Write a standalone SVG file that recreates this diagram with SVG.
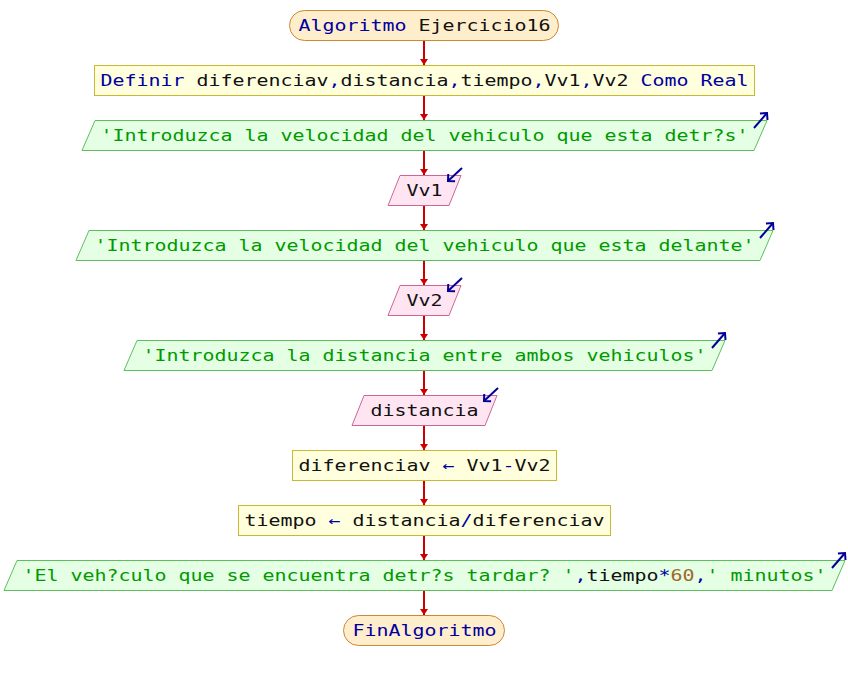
<svg xmlns="http://www.w3.org/2000/svg" width="848" height="680" viewBox="0 0 848 680">
<defs>
<style>
text{font-family:"DejaVu Sans Mono","Liberation Mono",monospace;font-size:16px;fill:#111111}
.kw{fill:#0000a0}
.st{fill:#009900}
.nu{fill:#a0682c}
.term{fill:#ffeecc;stroke:#cc8833;stroke-width:1}
.proc{fill:#ffffdd;stroke:#c8b832;stroke-width:1}
.out{fill:#e4ffe4;stroke:#5cbf5c;stroke-width:1}
.inp{fill:#ffe4f2;stroke:#cc6699;stroke-width:1}
.conn{stroke:#cc0000;stroke-width:2;fill:none}
.io{stroke:#000099;stroke-width:2;fill:none}
</style>
<marker id="ah" markerUnits="userSpaceOnUse" markerWidth="10" markerHeight="8" refX="6" refY="4" orient="auto">
<path d="M0,0 L6,4 L0,8 Z" fill="#cc0000"/>
</marker>
<marker id="bh" markerUnits="userSpaceOnUse" markerWidth="12" markerHeight="12" refX="8" refY="6" orient="auto">
<path d="M3,1 L8,6 L3,11" fill="none" stroke="#000099" stroke-width="2"/>
</marker>
</defs>
<g id="connectors">
<line class="conn" x1="424" y1="40" x2="424" y2="65" marker-end="url(#ah)"/>
<line class="conn" x1="424" y1="95" x2="424" y2="120" marker-end="url(#ah)"/>
<line class="conn" x1="424" y1="150" x2="424" y2="175" marker-end="url(#ah)"/>
<line class="conn" x1="424" y1="205" x2="424" y2="230" marker-end="url(#ah)"/>
<line class="conn" x1="424" y1="260" x2="424" y2="285" marker-end="url(#ah)"/>
<line class="conn" x1="424" y1="315" x2="424" y2="340" marker-end="url(#ah)"/>
<line class="conn" x1="424" y1="370" x2="424" y2="395" marker-end="url(#ah)"/>
<line class="conn" x1="424" y1="425" x2="424" y2="450" marker-end="url(#ah)"/>
<line class="conn" x1="424" y1="480" x2="424" y2="505" marker-end="url(#ah)"/>
<line class="conn" x1="424" y1="535" x2="424" y2="560" marker-end="url(#ah)"/>
<line class="conn" x1="424" y1="590" x2="424" y2="615" marker-end="url(#ah)"/>
</g>
<g id="start">
<rect class="term" x="289.5" y="10.5" width="269" height="30" rx="15" ry="15"/>
<text x="298.5" y="31" textLength="252" lengthAdjust="spacingAndGlyphs"><tspan class="kw">Algoritmo</tspan> Ejercicio16</text>
</g>
<g id="definir">
<rect class="proc" x="94.5" y="65.5" width="660" height="30"/>
<text x="100.5" y="86" textLength="648" lengthAdjust="spacingAndGlyphs"><tspan class="kw">Definir</tspan> diferenciav<tspan class="kw">,</tspan>distancia<tspan class="kw">,</tspan>tiempo<tspan class="kw">,</tspan>Vv1<tspan class="kw">,</tspan>Vv2 <tspan class="kw">Como Real</tspan></text>
</g>
<g id="out1">
<polygon class="out" points="82,150.5 95,120.5 767,120.5 754,150.5"/>
<text x="100.5" y="141" textLength="648" lengthAdjust="spacingAndGlyphs" class="st">'Introduzca la velocidad del vehiculo que esta detr?s'</text>
<line class="io" x1="754" y1="128" x2="767" y2="113" marker-end="url(#bh)"/>
</g>
<g id="in1">
<polygon class="inp" points="388,205.5 400,175.5 461,175.5 449,205.5"/>
<text x="406.5" y="196" textLength="36" lengthAdjust="spacingAndGlyphs">Vv1</text>
<line class="io" x1="462" y1="168" x2="448" y2="181" marker-end="url(#bh)"/>
</g>
<g id="out2">
<polygon class="out" points="76,260.5 89,230.5 773,230.5 760,260.5"/>
<text x="94.5" y="251" textLength="660" lengthAdjust="spacingAndGlyphs" class="st">'Introduzca la velocidad del vehiculo que esta delante'</text>
<line class="io" x1="760" y1="238" x2="773" y2="223" marker-end="url(#bh)"/>
</g>
<g id="in2">
<polygon class="inp" points="388,315.5 400,285.5 461,285.5 449,315.5"/>
<text x="406.5" y="306" textLength="36" lengthAdjust="spacingAndGlyphs">Vv2</text>
<line class="io" x1="462" y1="278" x2="448" y2="291" marker-end="url(#bh)"/>
</g>
<g id="out3">
<polygon class="out" points="124,370.5 137,340.5 725,340.5 712,370.5"/>
<text x="142.5" y="361" textLength="564" lengthAdjust="spacingAndGlyphs" class="st">'Introduzca la distancia entre ambos vehiculos'</text>
<line class="io" x1="712" y1="348" x2="725" y2="333" marker-end="url(#bh)"/>
</g>
<g id="in3">
<polygon class="inp" points="352,425.5 364,395.5 497,395.5 485,425.5"/>
<text x="370.5" y="416" textLength="108" lengthAdjust="spacingAndGlyphs">distancia</text>
<line class="io" x1="498" y1="388" x2="484" y2="401" marker-end="url(#bh)"/>
</g>
<g id="asig1">
<rect class="proc" x="292.5" y="450.5" width="264" height="30"/>
<text x="298.5" y="471" textLength="252" lengthAdjust="spacingAndGlyphs">diferenciav <tspan class="kw">←</tspan> Vv1<tspan class="kw">-</tspan>Vv2</text>
</g>
<g id="asig2">
<rect class="proc" x="238.5" y="505.5" width="372" height="30"/>
<text x="244.5" y="526" textLength="360" lengthAdjust="spacingAndGlyphs">tiempo <tspan class="kw">←</tspan> distancia<tspan class="kw">/</tspan>diferenciav</text>
</g>
<g id="out4">
<polygon class="out" points="4,590.5 17,560.5 845,560.5 832,590.5"/>
<text x="22.5" y="581" textLength="804" lengthAdjust="spacingAndGlyphs"><tspan class="st">'El veh?culo que se encuentra detr?s tardar? '</tspan><tspan class="kw">,</tspan>tiempo<tspan class="kw">*</tspan><tspan class="nu">60</tspan><tspan class="kw">,</tspan><tspan class="st">' minutos'</tspan></text>
<line class="io" x1="832" y1="568" x2="845" y2="553" marker-end="url(#bh)"/>
</g>
<g id="end">
<rect class="term" x="343.5" y="615.5" width="161" height="30" rx="15" ry="15"/>
<text x="352.5" y="636" textLength="144" lengthAdjust="spacingAndGlyphs" class="kw">FinAlgoritmo</text>
</g>
</svg>
